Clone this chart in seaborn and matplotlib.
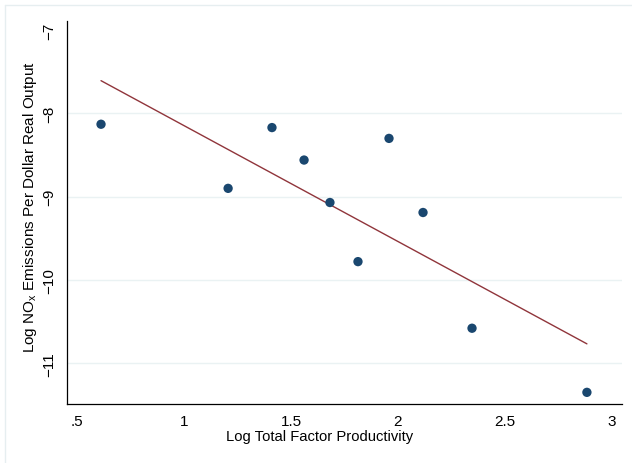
import matplotlib
matplotlib.use("Agg")
import matplotlib.pyplot as plt
import seaborn as sns
import pandas as pd
from matplotlib.lines import Line2D

tfp = [0.612, 1.206, 1.411, 1.561, 1.682, 1.813, 1.958, 2.117, 2.346, 2.883]
nox = [-8.13, -8.90, -8.17, -8.56, -9.07, -9.78, -8.30, -9.19, -10.58, -11.35]
xticks = [0.5, 1, 1.5, 2, 2.5, 3]
xticklabels = [".5", "1", "1.5", "2", "2.5", "3"]
yticks = [-7, -8, -9, -10, -11]
yticklabels = ["\u22127", "\u22128", "\u22129", "\u221210", "\u221211"]
gridticks = [-8, -9, -10, -11]

df = pd.DataFrame({"tfp": tfp, "nox": nox})

sns.set_theme(style="white")
plt.rcParams["font.family"] = ["Liberation Sans", "DejaVu Sans"]
plt.rcParams["mathtext.fontset"] = "custom"
plt.rcParams["mathtext.rm"] = "Liberation Sans"

fig = plt.figure(figsize=(6.32, 4.64), dpi=100)
ax = fig.add_axes([67/632, 1-405/464, (622-67)/632, (405-22)/464])

for g in gridticks:
    ax.axhline(g, color="#eaf2f3", lw=1.0, zorder=0)

sns.regplot(data=df, x="tfp", y="nox", ci=None, ax=ax,
            scatter_kws=dict(s=45, color="#1a476f", edgecolor="none", alpha=1, zorder=3),
            line_kws=dict(color="#90353b", lw=1.0, zorder=2))

ax.set_xlim(0.453, 3.047)
ax.set_ylim(-11.49, -6.89)
ax.set_xticks(xticks)
ax.set_xticklabels(xticklabels)
ax.set_yticks(yticks)
ax.set_yticklabels(yticklabels, rotation=90, va="center")
ax.tick_params(axis="both", direction="out", length=5, width=0.8, color="black",
               labelsize=11, labelcolor="black", pad=2)
ax.tick_params(axis="y", pad=3)
for s in ["top", "right"]:
    ax.spines[s].set_visible(False)
for s in ["left", "bottom"]:
    ax.spines[s].set_color("black")
    ax.spines[s].set_linewidth(0.9)
ax.set_xlabel("Log Total Factor Productivity", fontsize=10.6, color="black")
ax.xaxis.set_label_coords((320-67)/555, -25/383)
ax.set_ylabel("Log NO$\\mathregular{_x}$ Emissions Per Dollar Real Output", fontsize=11,
              color="black")
ax.yaxis.set_label_coords(-(67-39)/555, (405-207)/383)

fig.add_artist(Line2D([5/632, 5/632], [0, 1-6/464], transform=fig.transFigure,
                      color="#e6eef0", lw=1))
fig.add_artist(Line2D([5/632, 1], [1-6/464, 1-6/464], transform=fig.transFigure,
                      color="#e6eef0", lw=1))

fig.savefig("out.png", dpi=100, facecolor="white")
